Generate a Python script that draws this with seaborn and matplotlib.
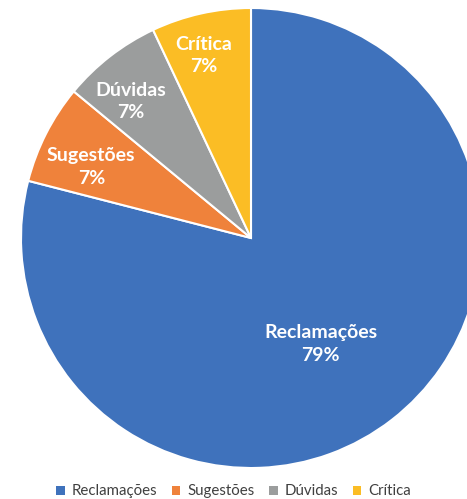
import numpy as np
import matplotlib
matplotlib.use("Agg")
import matplotlib.pyplot as plt
import seaborn as sns
from matplotlib.patches import Patch

categories = ["Reclamações", "Sugestões", "Dúvidas", "Crítica"]
values = [79, 7, 7, 7]
pct_labels = ["79%", "7%", "7%", "7%"]
colors = ["#3F72BC", "#EF823B", "#9B9D9D", "#FBBD25"]

sns.set_theme(style="white")
plt.rcParams['font.family'] = ['Lato', 'DejaVu Sans']

W, H = 467, 499
fig = plt.figure(figsize=(W / 100, H / 100), dpi=100)
cx, cy, r = 251, 499 - 238, 230
ax = fig.add_axes([(cx - r) / W, (cy - r) / H, 2 * r / W, 2 * r / H])

wedges, _ = ax.pie(values, colors=colors, startangle=90, counterclock=False,
                   radius=1, wedgeprops=dict(edgecolor="white", linewidth=1.5))
ax.set_xlim(-1, 1)
ax.set_ylim(-1, 1)
ax.set_aspect("equal")
ax.axis("off")

dists = [0.55, 0.76, 0.79, 0.82]
angle_shift = [-4.5, 3, 3.5, 2]
for w, cat, pct, d, s in zip(wedges, categories, pct_labels, dists, angle_shift):
    ang = np.deg2rad((w.theta1 + w.theta2) / 2 + s)
    ax.text(d * np.cos(ang), d * np.sin(ang), f"{cat}\n{pct}", ha="center", va="center",
            color="white", fontsize=14, fontweight="bold", linespacing=1.4)

handles = [Patch(facecolor=c, edgecolor="none") for c in colors]
fig.legend(handles, categories, loc="lower center", bbox_to_anchor=(0.5, -0.026), ncol=4,
           frameon=False, fontsize=10.8, handlelength=0.55, handleheight=0.55,
           handletextpad=0.45, columnspacing=1.0, labelcolor="#404040")

fig.savefig("out.png", dpi=100)
